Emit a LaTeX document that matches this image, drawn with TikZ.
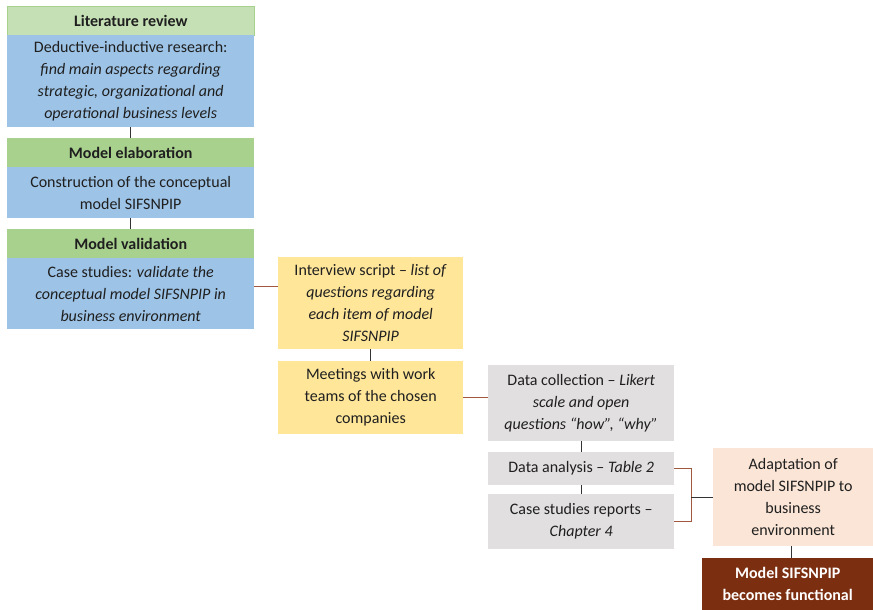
\documentclass[tikz,border=0pt]{standalone}
\usepackage{fontspec}
\setmainfont{Carlito}
\definecolor{headlight}{HTML}{C5E0B4}
\definecolor{headgreen}{HTML}{A9D18E}
\definecolor{bodyblue}{HTML}{9DC3E6}
\definecolor{noteyellow}{HTML}{FFE699}
\definecolor{stepgray}{HTML}{E1DFE0}
\definecolor{peach}{HTML}{FBE5D6}
\definecolor{darkbrown}{HTML}{7C2E10}
\definecolor{linkbrown}{HTML}{A0583F}
\definecolor{linkdark}{HTML}{333333}
\begin{document}
\begin{tikzpicture}[x=1pt,y=-1pt,
  box/.style={anchor=north west, inner sep=0pt, align=center,
    font=\fontsize{16}{22}\selectfont, text=black!88},
  head/.style={box, font=\fontsize{16}{22}\selectfont\bfseries},
  linkb/.style={draw=linkbrown, line width=0.9pt},
  linkd/.style={draw=linkdark, line width=0.9pt}]
\useasboundingbox (0,0) rectangle (873,610);

% main column
\node[head, fill=headlight, draw=headgreen, line width=0.6pt,
  minimum width=247, minimum height=29] (h1) at (7,6) {Literature review};
\node[box, fill=bodyblue, minimum width=247, minimum height=92] (b1) at (7,35)
  {Deductive-inductive research:\\ \textit{find main aspects regarding}\\
   \textit{strategic, organizational and}\\ \textit{operational business levels}};
\node[head, fill=headgreen, minimum width=247, minimum height=29] (h2) at (7,138)
  {Model elaboration};
\node[box, fill=bodyblue, minimum width=247, minimum height=51] (b2) at (7,167)
  {Construction of the conceptual\\ model SIFSNPIP};
\node[head, fill=headgreen, minimum width=247, minimum height=29] (h3) at (7,229)
  {Model validation};
\node[box, fill=bodyblue, minimum width=247, minimum height=71] (b3) at (7,258)
  {Case studies: \textit{validate the}\\ \textit{conceptual model SIFSNPIP in}\\
   \textit{business environment}};

% case study preparation
\node[box, fill=noteyellow, minimum width=185, minimum height=92] (y1) at (278,257)
  {Interview script -- \textit{list of}\\ \textit{questions regarding}\\
   \textit{each item of model}\\ \textit{SIFSNPIP}};
\node[box, fill=noteyellow, minimum width=185, minimum height=73] (y2) at (278,361)
  {Meetings with work\\ teams of the chosen\\ companies};

% data steps
\node[box, fill=stepgray, minimum width=186, minimum height=76] (g1) at (488,365)
  {Data collection -- \textit{Likert}\\ \textit{scale and open}\\
   \textit{questions “how”, “why”}};
\node[box, fill=stepgray, minimum width=186, minimum height=33] (g2) at (488,452)
  {Data analysis -- \textit{Table 2}};
\node[box, fill=stepgray, minimum width=186, minimum height=55] (g3) at (488,494)
  {Case studies reports --\\ \textit{Chapter 4}};

% outcome
\node[box, fill=peach, minimum width=160, minimum height=98] (ad) at (713,448)
  {Adaptation of\\ model SIFSNPIP to\\ business\\ environment};
\node[head, fill=darkbrown, text=white, minimum width=171, minimum height=52] (fin) at (702,558)
  {Model SIFSNPIP\\ becomes functional};

% connectors
\draw[linkd] (b1.south) -- (h2.north);
\draw[linkd] (b2.south) -- (h3.north);
\draw[linkb] ([yshift=7.5pt]b3.east) -- ([yshift=7.5pt]b3.east -| y1.west);
\draw[linkd] (y1.south) -- (y2.north);
\draw[linkb] (y2.east) -- (y2.east -| g1.west);
\draw[linkd] (g1.south) -- (g2.north);
\draw[linkd] (g2.south) -- (g3.north);
\draw[linkb] (g2.east) -- ++(17,0) coordinate (bt) |- (g3.east);
\coordinate (bj) at (bt |- ad.west);
\draw[linkd] (bj) -- (ad.west);
\draw[linkd] ([xshift=-2pt]ad.south) -- ([xshift=-2pt]ad.south |- fin.north);
\end{tikzpicture}
\end{document}
